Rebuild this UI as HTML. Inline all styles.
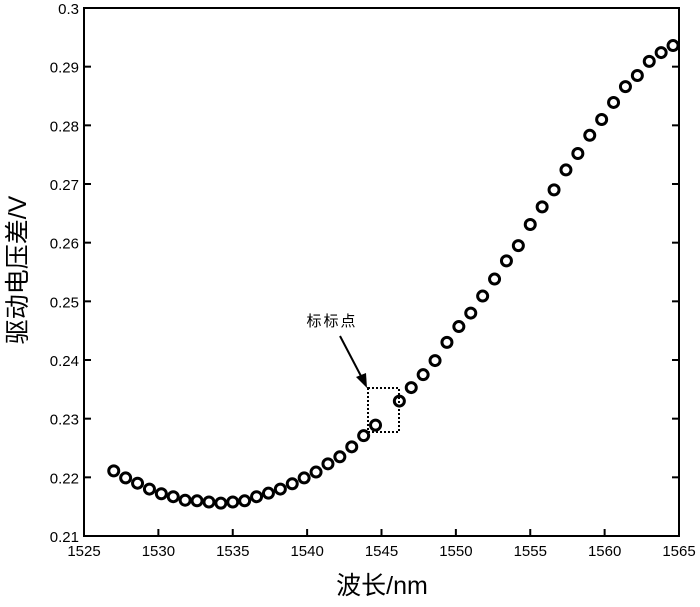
<!DOCTYPE html>
<html><head><meta charset="utf-8"><style>
body{margin:0;background:#fff}
svg text{font-family:"Liberation Sans","Noto Sans CJK SC",sans-serif}
</style></head><body>
<svg id="c" width="700" height="602"></svg>
<script>
const wavelengths=[1527.0,1527.8,1528.6,1529.4,1530.2,1531.0,1531.8,1532.6,1533.4,1534.2,1535.0,1535.8,1536.6,1537.4,1538.2,1539.0,1539.8,1540.6,1541.4,1542.2,1543.0,1543.8,1544.6,1546.2,1547.0,1547.8,1548.6,1549.4,1550.2,1551.0,1551.8,1552.6,1553.4,1554.2,1555.0,1555.8,1556.6,1557.4,1558.2,1559.0,1559.8,1560.6,1561.4,1562.2,1563.0,1563.8,1564.6];
const voltages=[0.2211,0.2199,0.2190,0.2180,0.2172,0.2167,0.2161,0.2160,0.2158,0.2156,0.2158,0.2160,0.2167,0.2173,0.2180,0.2189,0.2199,0.2209,0.2223,0.2235,0.2252,0.2271,0.2289,0.2330,0.2353,0.2375,0.2399,0.2430,0.2457,0.2480,0.2509,0.2538,0.2569,0.2595,0.2631,0.2661,0.2690,0.2724,0.2752,0.2783,0.2810,0.2839,0.2866,0.2885,0.2909,0.2924,0.2936];
const xTicks=[1525,1530,1535,1540,1545,1550,1555,1560,1565];
const yTicks=[0.21,0.22,0.23,0.24,0.25,0.26,0.27,0.28,0.29,0.3];
const yTickLabels=["0.21","0.22","0.23","0.24","0.25","0.26","0.27","0.28","0.29","0.3"];
const L=84,R=679,T=8,B=536;
const xs=v=>L+(v-1525)/40*(R-L);
const ys=v=>B-(v-0.21)/0.09*(B-T);
const svg=document.getElementById('c');const NS='http://www.w3.org/2000/svg';
function mk(t,a,txt){const e=document.createElementNS(NS,t);for(const k in a)e.setAttribute(k,a[k]);if(txt!=null)e.textContent=txt;svg.appendChild(e);return e;}
let e=mk('rect',{x:L,y:T,width:R-L,height:B-T,fill:'none',stroke:'#000','stroke-width':2});

xTicks.forEach(t=>{const x=xs(t);
 let l=mk('line',{x1:x,x2:x,y1:B,y2:B-7,stroke:'#000','stroke-width':2});
 
 let s=mk('text',{x:x,y:B+20,'text-anchor':'middle','font-size':15},t);
 });
yTicks.forEach((t,i)=>{const y=ys(t);
 let l=mk('line',{x1:L,x2:L+7,y1:y,y2:y,stroke:'#000','stroke-width':2});
 
 let r=mk('line',{x1:R,x2:R-7,y1:y,y2:y,stroke:'#000','stroke-width':2});
 
 let s=mk('text',{x:L-5,y:y+6,'text-anchor':'end','font-size':15},yTickLabels[i]);
 });
wavelengths.forEach((w,i)=>{let c=mk('circle',{cx:xs(w),cy:ys(voltages[i]),r:5,fill:'none',stroke:'#000','stroke-width':3});
 });
e=mk('rect',{x:368,y:388,width:31,height:44,fill:'none',stroke:'#000','stroke-width':2,'stroke-dasharray':'2,2'});

e=mk('line',{x1:340,y1:336,x2:362,y2:378,stroke:'#000','stroke-width':2});

e=mk('polygon',{points:'367,388 356,377 366,373',fill:'#000'});

e=mk('text',{x:332,y:326,'text-anchor':'middle','font-size':15,'letter-spacing':2},'标标点');

e=mk('text',{x:382,y:594,'text-anchor':'middle','font-size':25,'font-family':'"Liberation Serif","Noto Serif CJK SC",serif'},'波长/nm');

e=mk('text',{x:0,y:0,'text-anchor':'middle','font-size':25,transform:'translate(26,270) rotate(-90)','font-family':'"Liberation Serif","Noto Serif CJK SC",serif'},'驱动电压差/V');

</script>
</body></html>
